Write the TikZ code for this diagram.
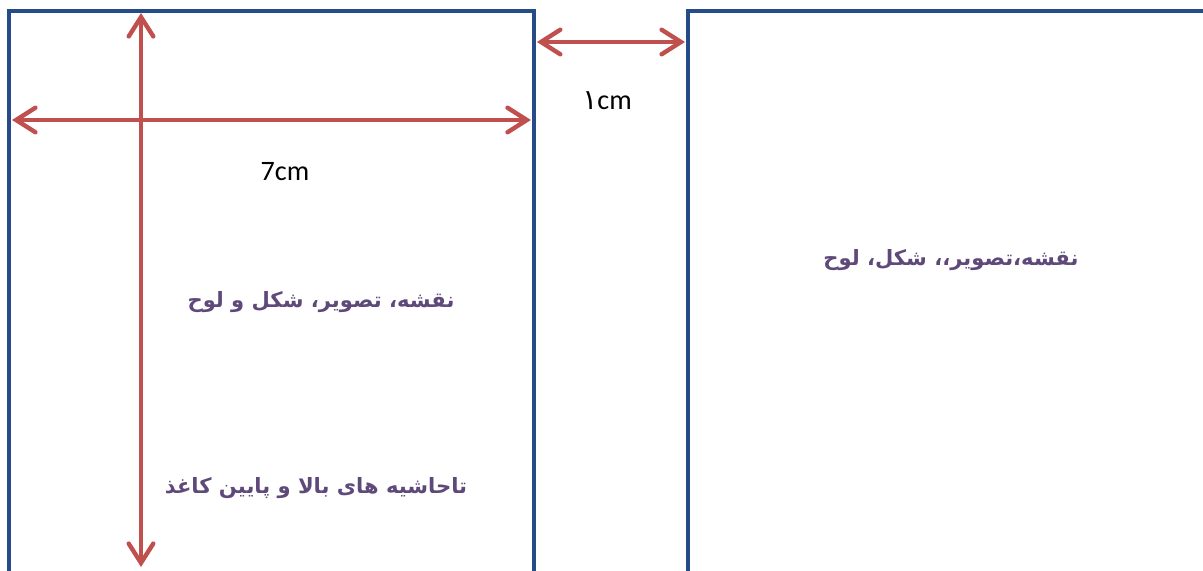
\documentclass[tikz,border=0pt]{standalone}
\usepackage{fontspec}
\setmainfont{Carlito}
\newfontfamily\arabicfont[Script=Arabic]{DejaVu Sans}
\TeXXeTstate=1
\usetikzlibrary{arrows.meta,calc}
\definecolor{pageblue}{RGB}{37,76,136}
\definecolor{arrowred}{RGB}{192,80,77}
\definecolor{textpurple}{RGB}{95,73,122}
\tikzstyle{arrow}=[draw, arrowred, line width=2.5pt, line cap=round,
  {Straight Barb[length=11pt,width=14pt,line cap=round]}-{Straight Barb[length=11pt,width=14pt,line cap=round]}]
\tikzstyle{page}=[rectangle, draw=pageblue, line width=2.4pt, anchor=north west,
  inner sep=0pt, outer sep=0pt]
\tikzstyle{fatext}=[text=textpurple, font=\arabicfont\bfseries\fontsize{12}{14}\selectfont]
\tikzstyle{cmtext}=[font=\fontsize{16}{18}\selectfont]

\begin{document}
\begin{tikzpicture}[x=0.02cm, y=-0.02cm]
  \useasboundingbox (0,0) rectangle (1203,571);
  \clip (0,0) rectangle (1203,571);
  % the two pages
  \node [page, minimum width=10.5cm, minimum height=12cm] (left) at (9,11) {};
  \node [page, minimum width=11.2cm, minimum height=12cm] (right) at (688,11) {};

  % arrows
  \coordinate (hline) at (300,120);
  \coordinate (gap) at (600,42);
  \coordinate (vtop) at (141,13);
  \coordinate (vbot) at (141,567);
  \draw [arrow] ($(left.west |- hline)+(3,0)$) to ($(left.east |- hline)+(-3,0)$);
  \draw [arrow] (vtop) to (vbot);
  \draw [arrow] ($(left.east |- gap)+(3,0)$) to ($(right.west |- gap)+(-3,0)$);

  \node [cmtext] (w) at (285,172) {7cm};
  \node [cmtext] (g) at (607,101) {{\arabicfont ١}cm};

  \node [fatext] (t1) at (321,302) {\beginR نقشه، تصویر، شکل و لوح\endR};
  \node [fatext] (t2) at (316,488) {\beginR تاحاشیه های بالا و پایین کاغذ\endR};
  \node [fatext] (t3) at (951,260) {\beginR نقشه،تصویر،، شکل، لوح\endR};
\end{tikzpicture}
\end{document}
